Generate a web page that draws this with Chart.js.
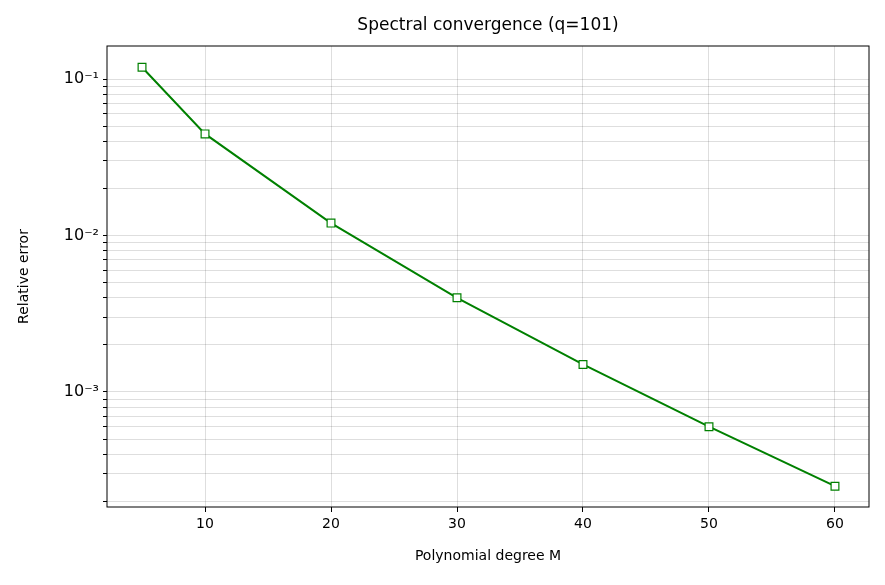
<!DOCTYPE html>
<html>
<head>
<meta charset="utf-8">
<script src="https://cdn.jsdelivr.net/npm/chart.js@4/dist/chart.umd.min.js"></script>
<style>
  html, body { margin: 0; padding: 0; background: #fff; }
  #wrap { width: 885px; height: 585px; }
</style>
</head>
<body>
<div id="wrap"><canvas id="convChart" width="885" height="585"></canvas></div>
<script>
var degrees = [5, 10, 20, 30, 40, 50, 60];
var relErrors = [0.119, 0.0446, 0.012, 0.004, 0.0015, 0.0006, 0.00025];
var xTicks = [10, 20, 30, 40, 50, 60];
var chartTitle = 'Spectral convergence (q=101)';
var supers = { '-': '⁻', '0': '⁰', '1': '¹', '2': '²', '3': '³', '4': '⁴', '5': '⁵' };

function powLabel(v) {
    var e = Math.log10(v);
    if (Math.abs(e - Math.round(e)) > 1e-9) return '';
    return '10' + String(Math.round(e)).split('').map(function (c) { return supers[c]; }).join('');
}

// frame round the plot and a title centred over the plot area
var frame = {
    id: 'frame',
    afterDraw: function (chart) {
        var a = chart.chartArea, ctx = chart.ctx;
        ctx.save();
        ctx.strokeStyle = '#000';
        ctx.lineWidth = 1;
        ctx.strokeRect(a.left, a.top, a.right - a.left, a.bottom - a.top);
        ctx.fillStyle = '#000';
        ctx.font = '17px "DejaVu Sans"';
        ctx.textAlign = 'center';
        ctx.textBaseline = 'middle';
        ctx.fillText(chartTitle, (a.left + a.right) / 2, 26);
        ctx.restore();
    }
};

var ctx = document.getElementById('convChart').getContext('2d');
new Chart(ctx, {
    type: 'line',
    data: {
        labels: degrees,
        datasets: [{
            data: degrees.map(function (d, i) { return { x: d, y: relErrors[i] }; }),
            borderColor: '#008000',
            borderWidth: 2,
            backgroundColor: '#ffffff',
            pointStyle: 'rect',
            pointRadius: 5.5,
            pointBorderWidth: 1.2,
            pointBorderColor: '#008000',
            pointBackgroundColor: '#ffffff',
            tension: 0
        }]
    },
    plugins: [frame],
    options: {
        responsive: false,
        devicePixelRatio: 1,
        animation: false,
        layout: { padding: { top: 46, right: 16, left: 12, bottom: 16 } },
        plugins: {
            legend: { display: false },
            tooltip: { enabled: false },
            title: { display: false }
        },
        scales: {
            x: {
                type: 'linear',
                min: 2.22,
                max: 62.7,
                afterBuildTicks: function (s) { s.ticks = xTicks.map(function (v) { return { value: v }; }); },
                afterFit: function (s) { s.height = 62; },
                ticks: { color: '#000', font: { family: 'DejaVu Sans', size: 14 }, padding: 4, maxRotation: 0 },
                grid: { color: 'rgba(0,0,0,0.13)', tickColor: '#000', tickLength: 5 },
                border: { display: false },
                title: { display: true, text: 'Polynomial degree M', color: '#000', font: { family: 'DejaVu Sans', size: 14 }, padding: { top: 2 } }
            },
            y: {
                type: 'logarithmic',
                min: 1.84e-4,
                max: 0.1626,
                afterBuildTicks: function (s) {
                    var t = [];
                    for (var e = -4; e <= -1; e++) {
                        for (var k = 1; k <= 9; k++) {
                            var v = k * Math.pow(10, e);
                            if (v >= s.min && v <= s.max) t.push({ value: v });
                        }
                    }
                    s.ticks = t;
                },
                afterFit: function (s) { s.width = 95; },
                ticks: {
                    color: '#000',
                    font: { family: 'DejaVu Sans', size: 16 },
                    autoSkip: false,
                    padding: 4,
                    callback: function (v) { return powLabel(v); }
                },
                grid: { color: 'rgba(0,0,0,0.13)', tickColor: '#000', tickLength: 4 },
                border: { display: false },
                title: { display: true, text: 'Relative error', color: '#000', font: { family: 'DejaVu Sans', size: 14 }, padding: { bottom: 0 } }
            }
        }
    }
});
</script>
</body>
</html>
